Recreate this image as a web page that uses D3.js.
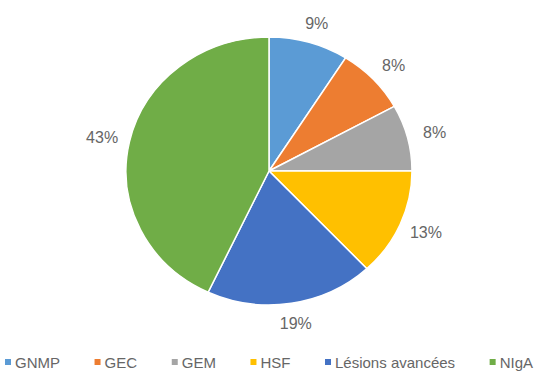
<!DOCTYPE html>
<html><head><meta charset="utf-8">
<script src="https://cdn.jsdelivr.net/npm/d3@7"></script>
<style>body{margin:0;background:#fff}svg{display:block}</style>
</head><body><svg id="c" width="536" height="374"></svg>
<script>
const categories = ["GNMP","GEC","GEM","HSF","Lésions avancées","NIgA"];
const values = [9, 8, 8, 13, 19, 43];
const labels = ["9%","8%","8%","13%","19%","43%"];
const colors = ["#5B9BD5","#ED7D31","#A5A5A5","#FFC000","#4472C4","#70AD47"];

const svg = d3.select("#c");
const cx = 269, cy = 171, ry = 134, sx = 143/134;

const pie = d3.pie().sort(null).value(d => d)(values);
const arc = d3.arc().innerRadius(0).outerRadius(ry);
const g = svg.append("g").attr("transform", `translate(${cx},${cy}) scale(${sx},1)`);
g.selectAll("path").data(pie).join("path")
  .attr("d", arc)
  .attr("fill", (d,i) => colors[i])
  .attr("stroke", "#fff").attr("stroke-width", 1.5)
  .attr("vector-effect", "non-scaling-stroke");

// labels outside end
const lrx = 171, lry = 154;
svg.append("g").selectAll("text").data(pie).join("text")
  .attr("x", d => cx + lrx * Math.sin((d.startAngle + d.endAngle)/2))
  .attr("y", d => cy - lry * Math.cos((d.startAngle + d.endAngle)/2))
  .attr("text-anchor", "middle").attr("dominant-baseline", "central")
  .attr("font-family", "Liberation Sans, Arial, sans-serif")
  .attr("font-size", 16).attr("fill", "#666")
  .text((d,i) => labels[i]);

// legend
const lg = svg.append("g").attr("font-family", "Liberation Sans, Arial, sans-serif")
  .attr("font-size", 15).attr("fill", "#666");
const items = lg.selectAll("g").data(categories).join("g");
items.append("rect").attr("width", 6).attr("height", 6).attr("y", -3)
  .attr("fill", (d,i) => colors[i]);
items.append("text").attr("x", 10).attr("dominant-baseline", "central").text(d => d);
const widths = [];
items.each(function(){ widths.push(this.getBBox().width); });
const left = 5, right = 533;
const total = d3.sum(widths);
const gap = (right - left - total) / (categories.length - 1);
let x = left;
items.attr("transform", (d,i) => { const t = `translate(${x},362)`; x += widths[i] + gap; return t; });
</script></body></html>
